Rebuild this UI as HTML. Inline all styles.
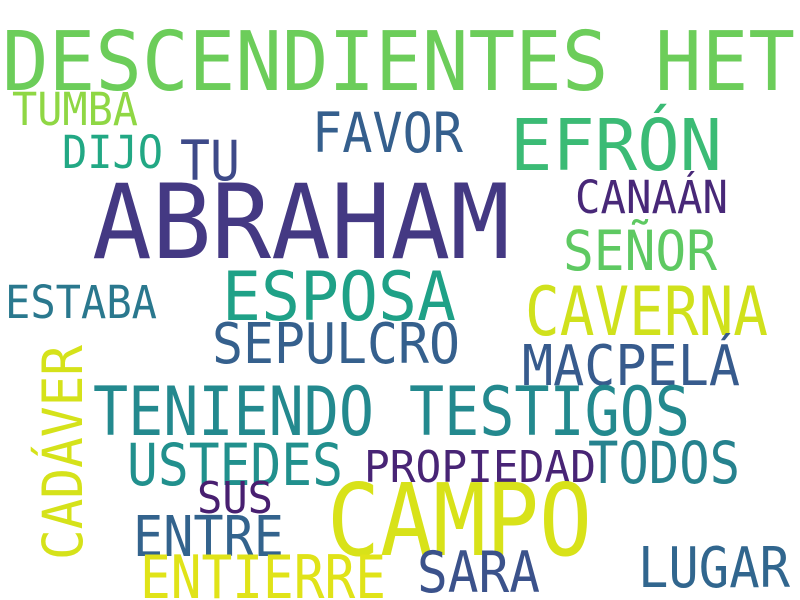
<!DOCTYPE html>
<html><head><meta charset="utf-8"><style>
html,body{margin:0;padding:0;background:#fff;}
svg{display:block;}
text{font-family:"DejaVu Sans Mono","Liberation Mono",monospace;}
</style></head><body>
<svg width="800" height="600" viewBox="0 0 800 600">
<rect width="800" height="600" fill="#fff"/>
<g id="words"></g>
</svg>
<script>
const words=["DESCENDIENTES HET","TUMBA","DIJO","TU","FAVOR","EFRÓN","ABRAHAM","CANAÁN","SEÑOR","ESTABA","ESPOSA","CAVERNA","SEPULCRO","MACPELÁ","TENIENDO TESTIGOS","USTEDES","PROPIEDAD","TODOS","SUS","CAMPO","ENTRE","ENTIERRE","SARA","LUGAR","CADÁVER"];
const sizes=[82,45,45,55,55,71,103,45,55,45,68,68,56,56,68,58,44,58,44,100,56,60,57,56,55];
const colors=["#6ccd5a","#8fd744","#22a884","#3e4a89","#355f8d","#3bbb75","#443983","#482878","#5ec962","#2a788e","#1fa187","#d0e11c","#35608d","#375b8d","#23898e","#21908d","#482475","#26828e","#481f70","#d8e219","#33638d","#e0e318","#3b528b","#31668e","#d5e21a"];
// layout: [x, baseline, width, rotated]
const layout=[[2,90,793,0],[12,125,126,0],[62,168,101,0],[180,180,60,0],[312,152,151,0],[510,170,212,0],[92,258,418,0],[575,213,153,0],[563,270,154,0],[5,318,152,0],[222,320,234,0],[525,335,243,0],[212,363,248,0],[522,385,218,0],[93,435,597,0],[127,485,216,0],[364,482,232,0],[588,483,152,0],[197,513,76,0],[327,555,265,0],[133,556,151,0],[140,598,246,0],[417,592,123,0],[638,587,152,0],[82,560,215,1]];
const g=document.getElementById('words');
words.forEach((w,i)=>{
  const t=document.createElementNS('http://www.w3.org/2000/svg','text');
  const [x,y,wd,r]=layout[i];
  t.setAttribute('x',x);t.setAttribute('y',y);
  if(r){t.setAttribute('transform','rotate(-90 '+x+' '+y+')');}
  t.setAttribute('font-size',sizes[i]);
  t.setAttribute('fill',colors[i]);
  t.setAttribute('textLength',wd);
  t.setAttribute('lengthAdjust','spacingAndGlyphs');
  t.textContent=w;
  
  
  g.appendChild(t);
});
</script>
</body></html>
